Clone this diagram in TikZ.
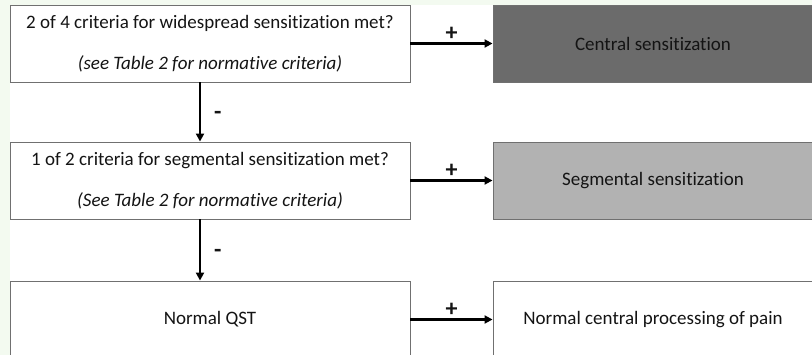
\documentclass[tikz,border=0pt]{standalone}
\usepackage{fontspec}
\setmainfont{Carlito}[Ligatures={NoCommon}]
\usetikzlibrary{arrows.meta}
\definecolor{pagegreen}{RGB}{243,250,240}
\definecolor{boxline}{RGB}{112,112,112}
\definecolor{darkfill}{RGB}{107,107,107}
\definecolor{lightfill}{RGB}{178,178,178}
\definecolor{ink}{RGB}{20,20,20}
\tikzset{
  question/.style={draw=boxline, line width=0.9pt, fill=white, minimum width=400pt,
    minimum height=77pt, inner sep=0pt, align=center, font=\fontsize{19}{22}\selectfont, text=ink},
  outcome/.style={draw=boxline, line width=0.9pt, minimum width=320pt,
    minimum height=77pt, inner sep=0pt, align=center, font=\fontsize{19}{22}\selectfont, text=ink},
  flow/.style={line width=2.4pt, -{Triangle[length=8pt,width=8pt]}},
  sign/.style={font=\fontsize{24}{26}\selectfont\bfseries, text=ink, inner sep=1pt}
}
\begin{document}
\begin{tikzpicture}[x=1pt,y=-1pt]
  \useasboundingbox (0,0) rectangle (812,355);
  \clip (0,0) rectangle (812,355);
  % page background and white sheet
  \fill[pagegreen] (0,0) rectangle (812,355);
  \fill[white] (10,5) rectangle (812,355);

  % decision boxes
  \node[question] (q1) at (210,43.5) {2 of 4 criteria for widespread sensitization met?\\[19pt]\textit{(see Table 2 for normative criteria)}};
  \node[question] (q2) at (210,180.5) {1 of 2 criteria for segmental sensitization met?\\[19pt]\textit{(See Table 2 for normative criteria)}};
  \node[question] (q3) at (210,319.5) {Normal QST};

  % outcome boxes
  \node[outcome, fill=darkfill] (o1) at (653,43.5) {Central sensitization};
  \node[outcome, fill=lightfill] (o2) at (653,180.5) {Segmental sensitization};
  \node[outcome, fill=white] (o3) at (653,319.5) {Normal central processing of pain};

  % positive branches
  \draw[flow] (q1.east) -- node[sign, midway, above=1pt] {+} (o1.west);
  \draw[flow] (q2.east) -- node[sign, midway, above=1pt] {+} (o2.west);
  \draw[flow] (q3.east) -- node[sign, midway, above=1pt] {+} (o3.west);

  % negative branches
  \draw[flow] ([xshift=-10pt]q1.south) -- node[sign, midway, right=12pt, yshift=-3pt] {-} ([xshift=-10pt]q2.north);
  \draw[flow] ([xshift=-10pt]q2.south) -- node[sign, midway, right=12pt, yshift=-3pt] {-} ([xshift=-10pt]q3.north);
\end{tikzpicture}
\end{document}
